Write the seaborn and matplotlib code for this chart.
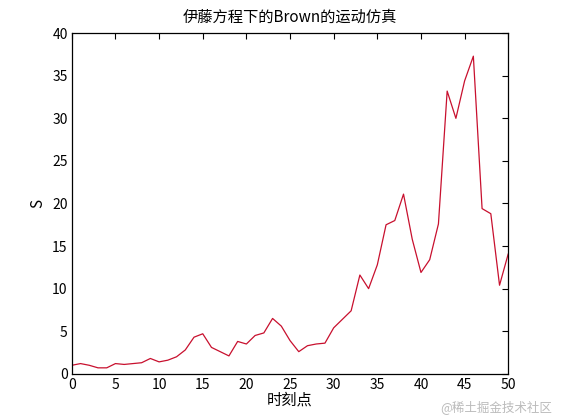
import numpy as np
import pandas as pd
import seaborn as sns
import matplotlib.pyplot as plt

# time steps and simulated S values
t = list(range(51))
s = [1.0, 1.2, 1.0, 0.7, 0.7, 1.2, 1.1, 1.2, 1.3, 1.8,
     1.4, 1.6, 2.0, 2.8, 4.3, 4.7, 3.1, 2.6, 2.1, 3.8,
     3.5, 4.5, 4.8, 6.5, 5.6, 3.9, 2.6, 3.3, 3.5, 3.6,
     5.4, 6.4, 7.4, 11.6, 10.0, 12.8, 17.5, 18.0, 21.1, 15.8,
     11.9, 13.4, 17.6, 33.2, 30.0, 34.4, 37.3, 19.4, 18.8, 10.4,
     14.1]
xticks = list(range(0, 51, 5))
yticks = list(range(0, 41, 5))

df = pd.DataFrame({"t": t, "S": s})

sns.set_theme(style="white", rc={"text.color": "black", "axes.labelcolor": "black"})
plt.rcParams['font.family'] = ['Noto Sans CJK SC', 'DejaVu Sans']

fig = plt.figure(figsize=(5.61, 4.20), dpi=100)
ax = fig.add_axes([0.128, 0.110, 0.778, 0.811])

sns.lineplot(data=df, x="t", y="S", ax=ax, color="#c8102e", linewidth=0.9)

ax.set_xlim(0, 50)
ax.set_ylim(0, 40)
ax.set_xticks(xticks)
ax.set_yticks(yticks)
ax.tick_params(direction="in", top=True, right=True, length=4, width=0.8,
               labelsize=10, colors="black", pad=3)
for sp in ax.spines.values():
    sp.set_color("black")
    sp.set_linewidth(0.9)

ax.set_title("伊藤方程下的Brown的运动仿真", fontsize=11, pad=8, color="black")
ax.set_xlabel("时刻点", fontsize=11, labelpad=0, color="black")
ax.set_ylabel("S", fontsize=11, labelpad=4, color="black")

fig.text(0.985, 0.015, "@稀土掘金技术社区", ha="right", va="bottom",
         fontsize=9, color="#bbbbbb")

fig.savefig("out.png", dpi=100, facecolor="white")
